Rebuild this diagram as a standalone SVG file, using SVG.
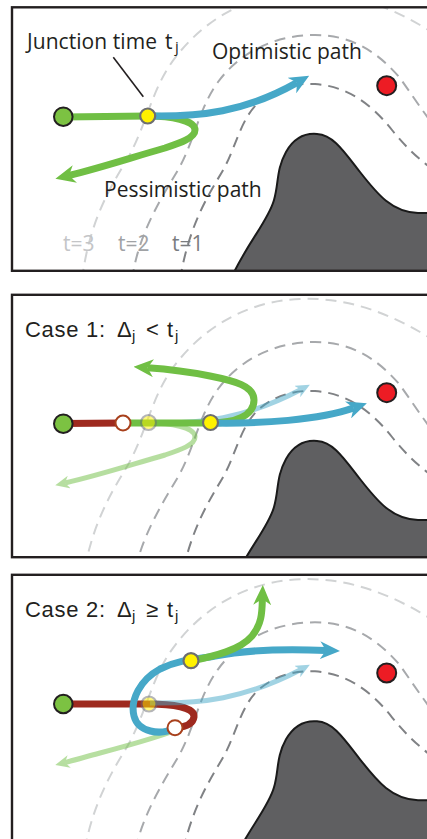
<svg xmlns="http://www.w3.org/2000/svg" width="427" height="839" viewBox="0 0 427 839">
<style>
.bg{fill:#fff;stroke:none}
.frame{fill:none;stroke:#231f20;stroke-width:2.4}
.d1{fill:none;stroke:#808285;stroke-width:2;stroke-dasharray:11 7}
.d2{fill:none;stroke:#a7a9ac;stroke-width:2;stroke-dasharray:11 7}
.d3{fill:none;stroke:#d1d3d4;stroke-width:2;stroke-dasharray:11 7}
.obst{fill:#5f5f61;stroke:#1a1a1a;stroke-width:2}
.goal{fill:#ed1c24;stroke:#231f20;stroke-width:2}
.start{fill:#7cc242;stroke:#231f20;stroke-width:2}
.jn{fill:#fff200;stroke:#6d6e71;stroke-width:2.2}
.hol{fill:#fff;stroke:#a8401c;stroke-width:2}
.g{fill:none;stroke:#70bf44;stroke-width:7;stroke-linejoin:round}
.b{fill:none;stroke:#46a8c8;stroke-width:7;stroke-linejoin:round}
.r{fill:none;stroke:#9e2a1f;stroke-width:7;stroke-linejoin:round}
.thin{stroke-width:5}
.lbl{font-family:"Open Sans","DejaVu Sans",sans-serif;font-size:21px;fill:#231f20}
.case{font-family:"Liberation Sans",Arial,sans-serif;font-size:22px;fill:#231f20}
.sub{font-size:15px}
</style>
<defs>
<marker id="mg" viewBox="0 -9 20 18" refX="6" refY="0" markerWidth="2.857" markerHeight="2.571" orient="auto" markerUnits="strokeWidth"><path d="M0,-9 L20,0 L0,9 L6,0 Z" fill="#70bf44"/></marker>
<marker id="mb" viewBox="0 -9 20 18" refX="6" refY="0" markerWidth="2.857" markerHeight="2.571" orient="auto" markerUnits="strokeWidth"><path d="M0,-9 L20,0 L0,9 L6,0 Z" fill="#46a8c8"/></marker>
<clipPath id="c1"><rect x="12" y="7.3" width="440" height="263.5"/></clipPath>
<clipPath id="c2"><rect x="12" y="294.8" width="440" height="262.4"/></clipPath>
<clipPath id="c3"><rect x="12" y="574.8" width="440" height="290"/></clipPath>
<g id="scene">
<path class="d3" d="M 82 280 C 88 230, 105 195, 125 163 C 145 130, 150 95, 170 65 C 195 28, 240 -6, 300 -8 C 345 -10, 385 5, 420 25 L 445 40"/>
<path class="d2" d="M 132 280 C 138 235, 160 200, 178 170 C 195 140, 198 110, 218 82 C 240 52, 275 35, 315 35 C 355 35, 380 55, 400 78 C 412 95, 425 115, 445 140"/>
<path class="d1" d="M 180 280 C 188 230, 205 200, 222 172 C 236 148, 240 120, 258 103 C 275 88, 295 83, 315 84 C 345 86, 370 102, 392 130 C 408 150, 425 165, 445 178"/>
<path class="obst" d="M 228 285 C 245 245, 268 222, 274 200 C 279 183, 276 170, 286 152 C 294 138, 305 133, 317 134 C 333 135, 343 150, 360 172 C 378 195, 392 212, 418 213 L 445 213 L 445 285 Z"/>
<circle class="goal" cx="386.7" cy="85.7" r="9.5"/>
</g>
</defs>

<g id="panel1">
<rect class="bg" x="12" y="7.3" width="440" height="263.5"/>
<g clip-path="url(#c1)">
<use href="#scene"/>
<g id="labels1">
<text class="lbl" x="27" y="48.5" textLength="130">Junction time</text>
<text class="lbl" x="165" y="48.5" font-size="25">t</text>
<text class="lbl sub" x="175" y="51.5">j</text>
<text class="lbl" x="212" y="58.5">Optimistic path</text>
<text class="lbl" x="104" y="197">Pessimistic path</text>
<text class="lbl" x="63" y="251" style="fill:#c4c5c7">t=3</text>
<text class="lbl" x="118" y="251" style="fill:#a0a2a5">t=2</text>
<text class="lbl" x="172" y="251" style="fill:#7a7c7f">t=1</text>
</g>
<g id="connectors1">
<line x1="113.3" y1="57.3" x2="143.3" y2="96.7" stroke="#231f20" stroke-width="1.6"/>
<path class="g" marker-end="url(#mg)" d="M 63 117 L 148 116 C 170 116, 195 120, 195 130 C 195 138, 180 143, 165 148 C 130 158, 100 168, 69 175.5"/>
<path class="b" marker-end="url(#mb)" d="M 148 116 C 200 117, 245 112, 297 82.6"/>
</g>
<g id="start1"><circle class="start" cx="63.3" cy="116.7" r="9.3"/></g>
<g id="junction1"><circle class="jn" cx="147.7" cy="116" r="7.5"/></g>
</g>
<rect class="frame" x="12" y="7.3" width="440" height="263.5"/>
</g>

<g id="panel2">
<rect class="bg" x="12" y="294.8" width="440" height="262.4"/>
<g clip-path="url(#c2)">
<use href="#scene" transform="translate(0,307)"/>
<g id="connectors2">
<g opacity="0.5"><path class="g thin" marker-end="url(#mg)" d="M 148 423 C 170 423, 195 427, 195 437 C 195 445, 180 450, 165 455 C 130 465, 100 475, 65 483"/></g>
<g opacity="0.5"><path class="b thin" marker-end="url(#mb)" d="M 150 423 C 200 424, 245 419, 301 389.5"/></g>
<path class="r" d="M 63 423.5 L 123 423"/>
<path class="g" marker-end="url(#mg)" d="M 123 423 L 211 423 C 235 423, 254 416, 254 400 C 254 386, 235 381, 210 376 C 190 372, 165 369, 147.5 367.8"/>
<path class="b" marker-end="url(#mb)" d="M 211 423 C 260 424, 320 420, 353.7 407.9"/>
</g>
<g id="oldjunction2" opacity="0.5"><circle class="jn" cx="148.5" cy="422.5" r="7.5"/></g>
<g id="junction2"><circle class="jn" cx="210.5" cy="422.5" r="7.5"/></g>
<g id="hollow2"><circle class="hol" cx="123" cy="423" r="7.5"/></g>
<g id="start2"><circle class="start" cx="63.3" cy="423.7" r="9.3"/></g>
</g>
<rect class="frame" x="12" y="294.8" width="440" height="262.4"/>
<text class="case" x="25" y="337" textLength="80">Case 1:</text>
<text class="case" x="117" y="337">Δ</text>
<text class="case sub" x="132" y="341">j</text>
<text class="case" x="146" y="337">&lt;</text>
<text class="case" x="167" y="337">t</text>
<text class="case sub" x="175" y="341">j</text>
</g>

<g id="panel3">
<rect class="bg" x="12" y="574.8" width="440" height="290"/>
<g clip-path="url(#c3)">
<use href="#scene" transform="translate(0,587.3)"/>
<g id="connectors3">
<g opacity="0.5"><path class="g thin" marker-end="url(#mg)" d="M 178 729 C 165 735, 130 745, 100 753 C 85 757, 75 760, 65 762.5"/></g>
<path class="r" d="M 63 704 L 148 704 C 172 704, 195 707, 194 717 C 193 724, 185 727, 176 727.7"/>
<g opacity="0.5"><path class="b thin" marker-end="url(#mb)" d="M 150 703 C 200 704, 245 699, 301 669.5"/></g>
<path class="b" marker-end="url(#mb)" d="M 175 728 C 160 736, 138 732, 134 716 C 130 700, 140 680, 160 669 C 180 659, 200 659, 215 656 C 245 650, 290 649, 326 650.5"/>
<path class="g" marker-end="url(#mg)" d="M 191 661 C 215 656, 240 650, 252 636 C 262 624, 262 612, 262.4 599"/>
</g>
<g id="oldjunction3" opacity="0.5"><circle class="jn" cx="149" cy="704" r="7.5"/></g>
<g id="junction3"><circle class="jn" cx="191" cy="660.7" r="7.5"/></g>
<g id="hollow3"><circle class="hol" cx="175" cy="727.7" r="7.5"/></g>
<g id="start3"><circle class="start" cx="63.3" cy="704" r="9.3"/></g>
</g>
<rect class="frame" x="12" y="574.8" width="440" height="290"/>
<text class="case" x="25" y="617" textLength="80">Case 2:</text>
<text class="case" x="117" y="617">Δ</text>
<text class="case sub" x="132" y="621">j</text>
<text class="case" x="146" y="617">≥</text>
<text class="case" x="167" y="617">t</text>
<text class="case sub" x="175" y="621">j</text>
</g>
</svg>
